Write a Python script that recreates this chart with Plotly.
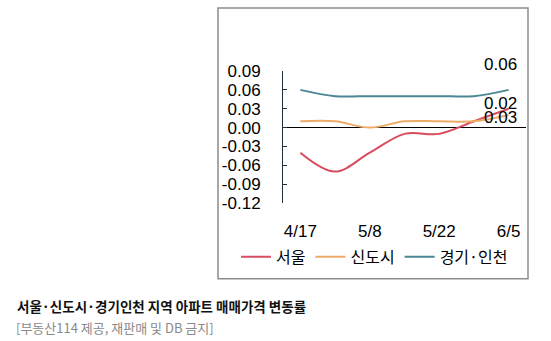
import plotly.graph_objects as go

# Weekly apartment sale price change rate (%)
weeks = ["4/17", "4/24", "5/8", "5/15", "5/22", "5/29", "6/5"]
seoul = [-0.04, -0.07, -0.04, -0.01, -0.01, 0.01, 0.03]
new_towns = [0.01, 0.01, 0.00, 0.01, 0.01, 0.01, 0.02]
gyeonggi_incheon = [0.06, 0.05, 0.05, 0.05, 0.05, 0.05, 0.06]

shown_weeks = ["4/17", "5/8", "5/22", "6/5"]
y_ticks = [0.09, 0.06, 0.03, 0.00, -0.03, -0.06, -0.09, -0.12]

series = [
    ("서울", seoul, "#d84c5e"),
    ("신도시", new_towns, "#eeab68"),
    ("경기·인천", gyeonggi_incheon, "#4b8794"),
]

W, H = 551, 341
L, R = 283, 526          # plot area, pixel x
T, B = 70.6, 203.0       # plot area, pixel y

def px(x):
    return (x - L) / (R - L)

def py(y):
    return (B - y) / (B - T)

NUM_FONT = dict(family="Liberation Sans, Arial, sans-serif", size=17, color="#000000")
KR_FONT = "Noto Sans CJK KR, Malgun Gothic, sans-serif"

fig = go.Figure()
for name, vals, color in series:
    fig.add_trace(go.Scatter(
        x=weeks, y=vals, name=name, mode="lines",
        line=dict(color=color, width=2, shape="spline", smoothing=1.0),
    ))

# End-of-line data labels
end_labels = [
    (gyeonggi_incheon[-1], 25),
    (new_towns[-1], 12),
    (seoul[-1], -9),
]
for val, shift in end_labels:
    fig.add_annotation(
        x=weeks[-1], y=val, xref="x", yref="y", text=f"{val:.2f}",
        showarrow=False, xshift=-8, yshift=shift, font=NUM_FONT,
    )

# Chart frame
fig.add_shape(type="rect", xref="paper", yref="paper",
              x0=px(218), x1=px(528), y0=py(279), y1=py(7.5),
              line=dict(color="#8c8c8c", width=1.5), fillcolor="rgba(0,0,0,0)",
              layer="below")

# Caption under the chart
fig.add_annotation(
    xref="paper", yref="paper", x=px(15), y=py(306.5), xanchor="left", yanchor="middle",
    text="<b>서울·신도시·경기인천 지역 아파트 매매가격 변동률</b>", showarrow=False,
    font=dict(family=KR_FONT, size=13.5, color="#111111"),
)
fig.add_annotation(
    xref="paper", yref="paper", x=px(14), y=py(327.5), xanchor="left", yanchor="middle",
    text="[부동산114 제공, 재판매 및 DB 금지]", showarrow=False,
    font=dict(family=KR_FONT, size=13, color="#8a8a8a"),
)

fig.update_layout(
    width=W, height=H,
    margin=dict(l=L, r=W - R, t=T, b=H - B, pad=0),
    paper_bgcolor="white", plot_bgcolor="white",
    showlegend=True,
    legend=dict(
        orientation="h", xref="paper", yref="paper",
        x=px(236), xanchor="left", y=py(257), yanchor="middle",
        font=dict(family=KR_FONT, size=16, color="#000000"),
        tracegroupgap=0, bgcolor="rgba(0,0,0,0)",
    ),
)

fig.update_xaxes(
    type="category", range=[-0.5, len(weeks) - 0.5],
    tickvals=shown_weeks, ticktext=shown_weeks,
    showgrid=False, showline=False, zeroline=False, ticks="",
    tickfont=NUM_FONT, ticklabelstandoff=16, automargin=False,
)
fig.update_yaxes(
    range=[-0.12, 0.09], tickvals=y_ticks,
    ticktext=[f"{v:.2f}" for v in y_ticks],
    showgrid=False, showline=True, linecolor="#1f2d3d", linewidth=1,
    ticks="inside", ticklen=4, tickcolor="#1f2d3d",
    zeroline=True, zerolinecolor="#000000", zerolinewidth=1,
    tickfont=NUM_FONT, ticklabelstandoff=18, automargin=False,
)

fig.write_html("out.html")
